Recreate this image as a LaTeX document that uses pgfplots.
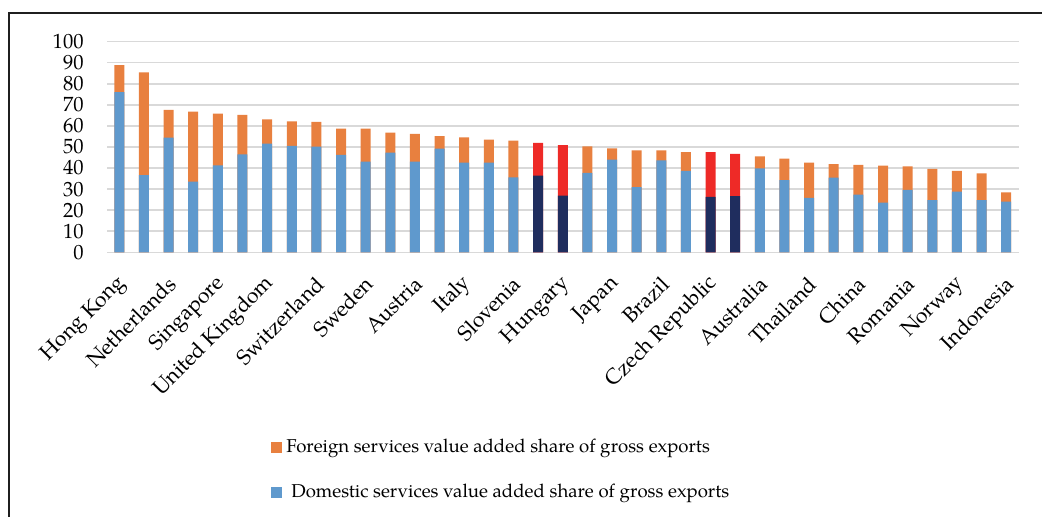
\documentclass[border=0pt]{standalone}
\usepackage{fontspec}
\setmainfont{texgyrepagella-regular.otf}
\usepackage{pgfplots}
\pgfplotsset{compat=1.18}
\definecolor{exblue}{HTML}{5F99CD}
\definecolor{exorange}{HTML}{E8803F}
\definecolor{exnavy}{HTML}{1F2D5E}
\definecolor{exred}{HTML}{EE2A27}
\definecolor{gridgray}{HTML}{D9D9D9}
\begin{document}
\begin{tikzpicture}[x=0.5pt,y=0.5pt]
\path[use as bounding box] (0,0) rectangle (1042,517);
\draw[line width=1pt, black!88] (9,-5) -- (9,504) -- (1050,504);
\begin{axis}[
  at={(53.5pt,132.35pt)}, anchor=south west,
  scale only axis, width=455.75pt, height=105.3pt,
  xmin=0.5, xmax=37.5, ymin=0, ymax=100,
  ybar, bar width=5pt, bar shift=0pt,
  axis x line*=bottom, axis y line*=left,
  y axis line style={draw=none},
  x axis line style={gridgray, line width=0.75pt},
  major tick length=0pt,
  ytick={0,10,...,100},
  ymajorgrids, grid style={gridgray, line width=0.75pt},
  xtick={1,3,...,37},
  xticklabels={Hong Kong,Netherlands,Singapore,United Kingdom,Switzerland,Sweden,Austria,Italy,Slovenia,Hungary,Japan,Brazil,Czech Republic,Australia,Thailand,China,Romania,Norway,Indonesia},
  /pgf/number format/assume math mode=true,
  yticklabel style={font=\fontsize{10.3}{12}\selectfont, anchor=east, inner sep=0pt, xshift=-11.5pt},
  xticklabel style={font=\fontsize{10.7}{12}\selectfont, xshift=2pt, yshift=-14pt, rotate=45, anchor=east, inner sep=0pt},
  legend style={at={(0.1799,-0.8675)}, anchor=north west, draw=none, fill=none,
    font=\fontsize{9.3}{11}\selectfont, row sep=10pt, inner sep=0pt},
  legend cell align=left,
  legend image code/.code={\fill[#1] (0pt,-2.75pt) rectangle (5.5pt,2.75pt);},
]
% totals (orange, foreign on top of domestic)
\addplot[fill=exorange, draw=none] coordinates {
(1,88.9)(2,85.4)(3,67.6)(4,66.8)(5,65.8)(6,65.2)(7,63.1)(8,62.2)(9,61.9)(10,58.7)
(11,58.7)(12,56.8)(13,56.2)(14,55.2)(15,54.6)(16,53.5)(17,53.0)
(20,50.3)(21,49.4)(22,48.4)(23,48.4)(24,47.6)
(27,45.6)(28,44.5)(29,42.6)(30,41.9)(31,41.5)(32,41.1)(33,40.8)(34,39.6)(35,38.6)(36,37.5)(37,28.5)};
\addlegendentry{Foreign services value added share of gross exports}
\addplot[fill=exblue, draw=none] coordinates {
(1,76.1)(2,36.6)(3,54.4)(4,33.5)(5,41.3)(6,46.5)(7,51.6)(8,50.5)(9,50.2)(10,46.2)
(11,43.0)(12,47.3)(13,43.0)(14,49.2)(15,42.6)(16,42.6)(17,35.6)
(20,37.7)(21,44.0)(22,30.9)(23,43.7)(24,38.6)
(27,39.9)(28,34.3)(29,25.8)(30,35.4)(31,27.4)(32,23.6)(33,29.6)(34,24.8)(35,28.8)(36,24.8)(37,24.1)};
\addlegendentry{\hspace{2.5pt}Domestic services value added share of gross exports}
\addplot[fill=exred, draw=none] coordinates {(18,51.9)(19,50.9)(25,47.6)(26,46.7)};
\addplot[fill=exnavy, draw=none] coordinates {(18,36.4)(19,26.9)(25,26.3)(26,26.7)};
\end{axis}
\end{tikzpicture}
\end{document}
